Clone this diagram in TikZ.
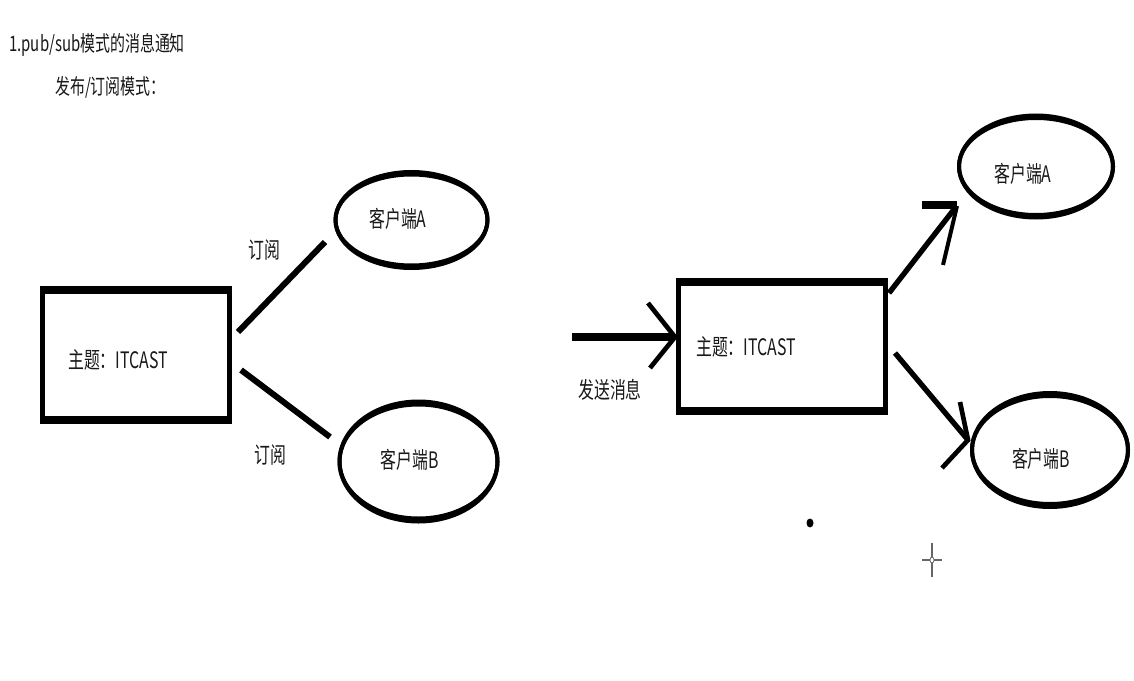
\documentclass[tikz,border=0pt]{standalone}
\usepackage{fontspec}
\setmainfont{Noto Sans CJK SC}[FakeStretch=0.7]
\usetikzlibrary{shapes.geometric}
\begin{document}
\begin{tikzpicture}[x=0.75pt,y=-0.75pt,
  txt/.style={font=\fontsize{17pt}{19pt}\selectfont, text=black!90, inner sep=0pt},
  ttl/.style={font=\fontsize{16pt}{18pt}\selectfont, text=black!90, inner sep=0pt},
  boxnode/.style={draw=none, inner sep=0pt},
  side/.style={line width=3.75pt, line cap=butt},
  topbar/.style={line width=6pt, shorten <=-1.875pt, shorten >=-1.875pt},
  ell/.style={ellipse, draw, line width=3pt, inner sep=0pt},
  thick ell/.style={line width=3pt},
  conn/.style={line width=4.5pt},
  shaft/.style={line width=4pt},
  head/.style={line width=3.5pt, line join=miter}]
\useasboundingbox (0,0) rectangle (1134,681);
\fill[white] (0,0) rectangle (1134,681);

% titles
\node[ttl, anchor=west] (title) at (9,45) {1.pub/sub模式的消息通知};
\node[ttl, anchor=west] (sub) at (55,87) {发布/订阅模式：};

% ---------- left diagram ----------
\node[boxnode, minimum width=186*0.75pt, minimum height=130*0.75pt] (t1) at (136,355) {};
\draw[side] (t1.north west) -- (t1.south west);
\draw[side] (t1.north east) -- (t1.south east);
\draw[topbar] (t1.north west) -- (t1.north east);
\draw[topbar] (t1.south west) -- (t1.south east);
\node[txt] (t1l) at (118,360) {主题：ITCAST};

\node[ell, minimum width=152*0.75pt, minimum height=91*0.75pt] (la) at (411.5,220) {};
\draw[thick ell] (la.center) ellipse [x radius=76, y radius=48];
\node[txt] (lal) at (398,219) {客户端A};

\node[ell, minimum width=158*0.75pt, minimum height=114*0.75pt] (lb) at (418.5,461.5) {};
\draw[thick ell] (lb.center) ellipse [x radius=79, y radius=60];
\node[txt] (lbl) at (410,460) {客户端B};

\coordinate (l1s) at (238,332);
\coordinate (l1e) at (325,242);
\coordinate (l2s) at (241,370);
\coordinate (l2e) at (330,437);
\draw[conn] (l1s) -- (l1e);
\draw[conn] (l2s) -- (l2e);
\node[txt] (sa) at (264,250) {订阅};
\node[txt] (sb) at (270,455) {订阅};

% ---------- right diagram ----------
\node[boxnode, minimum width=206.5*0.75pt, minimum height=128.5*0.75pt] (t2) at (782.25,346.75) {};
\draw[side] (t2.north west) -- (t2.south west);
\draw[side] (t2.north east) -- (t2.south east);
\draw[topbar] (t2.north west) -- (t2.north east);
\draw[topbar] (t2.south west) -- (t2.south east);
\node[txt] (t2l) at (746,347) {主题：ITCAST};

\node[ell, minimum width=154*0.75pt, minimum height=97*0.75pt] (ra) at (1036,166.5) {};
\draw[thick ell] (ra.center) ellipse [x radius=77, y radius=51];
\node[txt] (ral) at (1023,174) {客户端A};

\node[ell, minimum width=156*0.75pt, minimum height=108*0.75pt] (rb) at (1050,450) {};
\draw[thick ell] (rb.center) ellipse [x radius=78, y radius=57];
\node[txt] (rbl) at (1041,459) {客户端B};

% incoming arrow
\coordinate (ins) at (572,337);
\coordinate (int) at (675,337);
\draw[line width=5.5pt] (ins) -- (int);
\draw[head] (648,303) -- (int) -- (650,368);
\node[txt] (send) at (610,390) {发送消息};

% arrow to A
\coordinate (as) at (889,293);
\coordinate (at) at (955,208);
\draw[shaft] (as) -- (at);
\draw[line width=5.5pt] (922,205) -- (957,205);
\draw[line width=3pt] (957,206) -- (943,265);

% arrow to B
\coordinate (bs) at (895,353);
\coordinate (bt) at (968,440);
\draw[shaft] (bs) -- (bt);
\draw[head] (960,402) -- (bt) -- (942,468);

% dot and cursor
\fill[black] (810,523) ellipse [x radius=3.5, y radius=4.5];
\draw[black!60, line width=1.2pt] (932,543) -- (932,577);
\draw[black!60, line width=1.8pt] (922,560) -- (942,560);
\filldraw[fill=white, draw=black!60, line width=0.6pt] (932,560) ellipse [x radius=2, y radius=3];
\end{tikzpicture}
\end{document}
